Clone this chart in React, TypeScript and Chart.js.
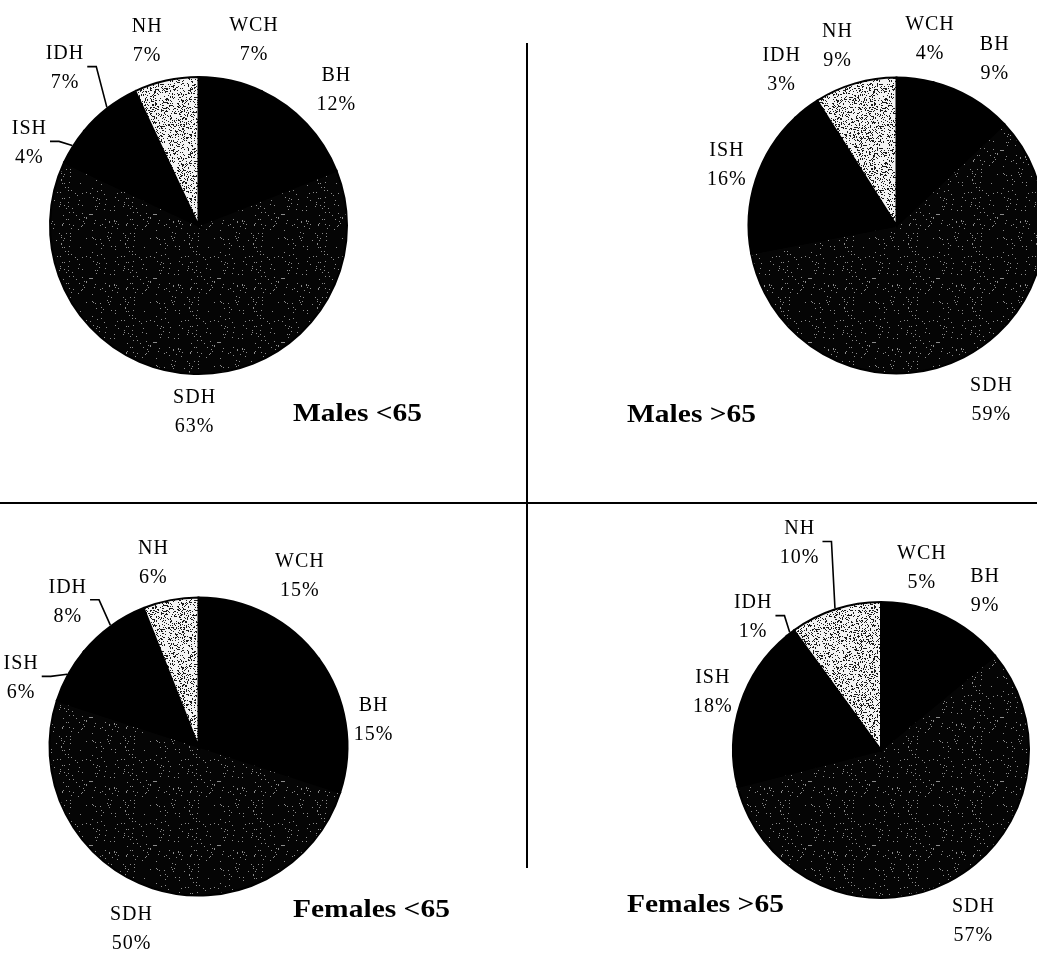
import { useEffect, useRef } from "react";
import { Chart, registerables } from "chart.js";

Chart.register(...registerables);

// ---- data ----
const categories = ["WCH", "BH", "SDH", "ISH", "IDH", "NH"];
const malesUnder65 = [7, 12, 63, 4, 7, 7];
const malesOver65 = [4, 9, 59, 16, 3, 9];
const femalesUnder65 = [15, 15, 50, 6, 8, 6];
const femalesOver65 = [5, 9, 57, 18, 1, 10];
const panelTitles = ["Males <65", "Males >65", "Females <65", "Females >65"];

// ---- layout (page pixels) ----
type Panel = {
  values: number[];
  title: string;
  box: [number, number, number, number];
  cx: number;
  cy: number;
  r: number;
  titleAt: [number, number];
  tweaks: [number, number][]; // [angle offset deg, label distance] per category
  leaders: string[];
};

const PANELS: Panel[] = [
  {
    values: malesUnder65,
    title: panelTitles[0],
    box: [0, 0, 527, 503],
    cx: 198.5,
    cy: 225.5,
    r: 148.5,
    titleAt: [293, 421],
    tweaks: [[4.1, 193], [-1.2, 193], [-0.6, 187], [-6.5, 188], [-2.6, 206], [-3, 191]],
    leaders: ["ISH", "IDH"],
  },
  {
    values: malesOver65,
    title: panelTitles[1],
    box: [527, 0, 560, 503],
    cx: 896.5,
    cy: 225.5,
    r: 148,
    titleAt: [627, 422],
    tweaks: [[3, 189], [0, 193], [-1.5, 199], [1.6, 180], [1.3, 193], [-2, 189]],
    leaders: [],
  },
  {
    values: femalesUnder65,
    title: panelTitles[2],
    box: [0, 503, 527, 452],
    cx: 198.5,
    cy: 746.5,
    r: 149,
    titleAt: [293, 917],
    tweaks: [[3.8, 198], [0.5, 177], [2.1, 195], [-7.8, 190], [-6.1, 195], [-3, 189]],
    leaders: ["ISH", "IDH"],
  },
  {
    values: femalesOver65,
    title: panelTitles[3],
    box: [527, 503, 560, 452],
    cx: 881,
    cy: 750,
    r: 148,
    titleAt: [627, 912],
    tweaks: [[3.7, 186], [-1, 190], [-1.3, 195], [1.1, 178], [-6.2, 184], [-3.5, 222]],
    leaders: ["IDH", "NH"],
  },
];

function speckle(base: string, dot: string, density: number, seed: number) {
  const c = document.createElement("canvas");
  c.width = 64;
  c.height = 64;
  const g = c.getContext("2d")!;
  g.fillStyle = base;
  g.fillRect(0, 0, 64, 64);
  g.fillStyle = dot;
  let s = seed >>> 0;
  for (let y = 0; y < 64; y++) {
    for (let x = 0; x < 64; x++) {
      s = (Math.imul(s, 1664525) + 1013904223) >>> 0;
      if (((s >>> 8) % 1000) < density * 1000) g.fillRect(x, y, 1, 1);
    }
  }
  return g.createPattern(c, "repeat")!;
}

function PiePanel({ panel }: { panel: Panel }) {
  const ref = useRef<HTMLCanvasElement | null>(null);
  const [bx, by, bw, bh] = panel.box;

  useEffect(() => {
    const canvas = ref.current!;
    const lcx = panel.cx - bx;
    const lcy = panel.cy - by;
    const R = panel.r + 2;
    const sdhFill = speckle("#050505", "#8c8c8c", 0.035, 12345);
    const nhFill = speckle("#f4f4f4", "#1a1a1a", 0.24, 777);
    const fills: (string | CanvasPattern)[] = ["#000000", "#000000", sdhFill, "#000000", "#000000", nhFill];

    const labelPlugin = {
      id: "pieLabels",
      afterDraw(chart: any) {
        const ctx: CanvasRenderingContext2D = chart.ctx;
        const meta = chart.getDatasetMeta(0);
        ctx.save();
        ctx.fillStyle = "#000";
        ctx.strokeStyle = "#000";
        ctx.textAlign = "center";
        ctx.textBaseline = "middle";
        ctx.font = '20px "Liberation Serif", "Times New Roman", serif';
        (ctx as any).letterSpacing = "1px";
        meta.data.forEach((arc: any, i: number) => {
          const p = arc.getProps(["x", "y", "startAngle", "endAngle", "outerRadius"], true);
          const mid = (p.startAngle + p.endAngle) / 2;
          const [dA, dist] = panel.tweaks[i];
          const a = mid + (dA * Math.PI) / 180;
          const lx = p.x + dist * Math.cos(a);
          const ly = p.y + dist * Math.sin(a);
          const name = categories[i];
          const pct = panel.values[i] + "%";
          ctx.fillText(name, lx, ly - 14.5);
          ctx.fillText(pct, lx, ly + 14.5);
          if (panel.leaders.includes(name)) {
            const w = Math.max(ctx.measureText(name).width, ctx.measureText(pct).width);
            const sx = lx + w / 2 + 3;
            const sy = ly - 2;
            const ex = p.x + (p.outerRadius + 1) * Math.cos(mid);
            const ey = p.y + (p.outerRadius + 1) * Math.sin(mid);
            ctx.lineWidth = 1.6;
            ctx.beginPath();
            ctx.moveTo(sx, sy);
            ctx.lineTo(sx + 9, sy);
            ctx.lineTo(ex, ey);
            ctx.stroke();
          }
        });
        // panel title
        ctx.textAlign = "left";
        ctx.textBaseline = "alphabetic";
        (ctx as any).letterSpacing = "0px";
        ctx.font = 'bold 25px "Liberation Serif", "Times New Roman", serif';
        ctx.translate(panel.titleAt[0] - bx, panel.titleAt[1] - by);
        ctx.scale(1.18, 1);
        ctx.fillText(panel.title, 0, 0);
        ctx.restore();
      },
    };

    const chart = new Chart(canvas, {
      type: "pie",
      data: {
        labels: categories,
        datasets: [
          {
            data: panel.values,
            backgroundColor: fills as any,
            borderColor: "#000000",
            hoverBorderColor: "#000000",
            borderWidth: 2,
            borderJoinStyle: "miter",
            radius: panel.r,
          } as any,
        ],
      },
      options: {
        responsive: false,
        devicePixelRatio: 1,
        animation: false,
        radius: panel.r,
        layout: {
          padding: {
            left: lcx - R,
            right: bw - lcx - R,
            top: lcy - R,
            bottom: bh - lcy - R,
          },
        },
        plugins: {
          legend: { display: false },
          tooltip: { enabled: false },
        },
      } as any,
      plugins: [labelPlugin],
    });
    return () => chart.destroy();
  }, []);

  return (
    <canvas
      ref={ref}
      width={bw}
      height={bh}
      style={{ position: "absolute", left: bx, top: by, width: bw, height: bh }}
    />
  );
}

export default function App() {
  return (
    <div
      style={{
        position: "fixed",
        left: 0,
        top: 0,
        width: 1037,
        height: 955,
        overflow: "hidden",
        background: "#fff",
      }}
    >
      {PANELS.map((p, i) => (
        <PiePanel key={i} panel={p} />
      ))}
      <div style={{ position: "absolute", left: 0, top: 502, width: 1037, height: 2, background: "#000" }} />
      <div style={{ position: "absolute", left: 526, top: 43, width: 2, height: 825, background: "#000" }} />
    </div>
  );
}
